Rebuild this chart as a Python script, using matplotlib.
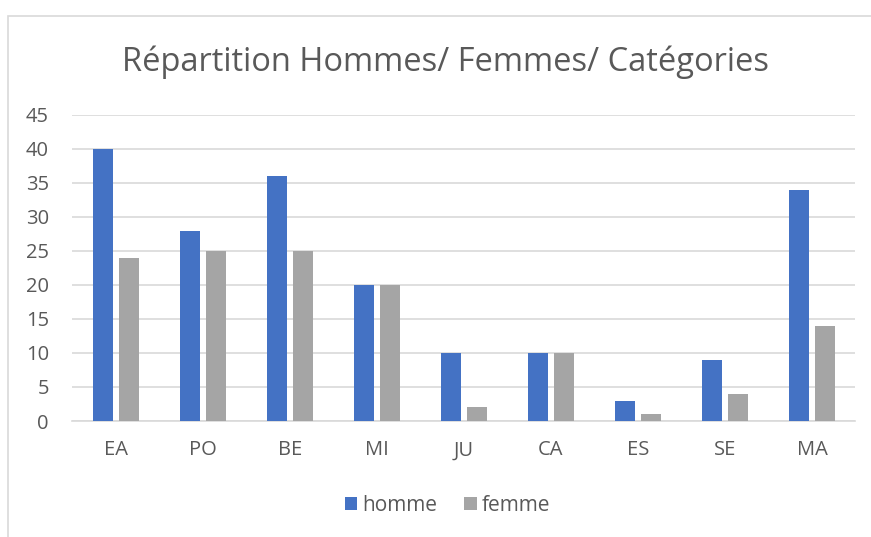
import matplotlib
matplotlib.use('Agg')
import matplotlib.pyplot as plt
from matplotlib.patches import Rectangle
import numpy as np

categories = ['EA', 'PO', 'BE', 'MI', 'JU', 'CA', 'ES', 'SE', 'MA']
homme = [40, 28, 36, 20, 10, 10, 3, 9, 34]
femme = [24, 25, 25, 20, 2, 10, 1, 4, 14]
yticks = [0, 5, 10, 15, 20, 25, 30, 35, 40, 45]

plt.rcParams['font.family'] = ['Open Sans', 'DejaVu Sans']
txt = '#595959'
grid = '#D9D9D9'

fig = plt.figure(figsize=(8.71, 5.37), dpi=100)
# chart frame: only left and top edges fall inside the picture
fig.patches.append(Rectangle((8/871, -0.1), 1.2, 1.1 - 16/537, transform=fig.transFigure,
                             fill=False, edgecolor='#D9D9D9', linewidth=1.2))
ax = fig.add_axes([0.0832, 0.216, 0.899, 0.570])

x = np.arange(len(categories))
w = 0.23
ax.bar(x - 0.145, homme, w, color='#4472C4', label='homme', zorder=3)
ax.bar(x + 0.145, femme, w, color='#A5A5A5', label='femme', zorder=3)

ax.set_xlim(-0.5, len(categories) - 0.5)
ax.set_ylim(0, 45)
ax.set_yticks(yticks)
ax.set_xticks(x)
ax.set_xticklabels(categories)
ax.yaxis.grid(True, color=grid, linewidth=1.2, zorder=0)
for s in ['top', 'right', 'left']:
    ax.spines[s].set_visible(False)
ax.spines['bottom'].set_color(grid)
ax.spines['bottom'].set_linewidth(1.2)
ax.tick_params(length=0, labelsize=14.5, colors=txt)
ax.tick_params(axis='x', pad=14)
ax.tick_params(axis='y', pad=17)

fig.text(0.511, 0.884, 'Répartition Hommes/ Femmes/ Catégories', ha='center', va='center',
         fontsize=23.5, color=txt)
fig.legend(loc='center', bbox_to_anchor=(0.514, 0.059), ncol=2, frameon=False,
           fontsize=15, labelcolor=txt, handlelength=0.6, handleheight=0.6,
           handletextpad=0.25, columnspacing=1.3)

fig.savefig('out.png', dpi=100, facecolor='w')
